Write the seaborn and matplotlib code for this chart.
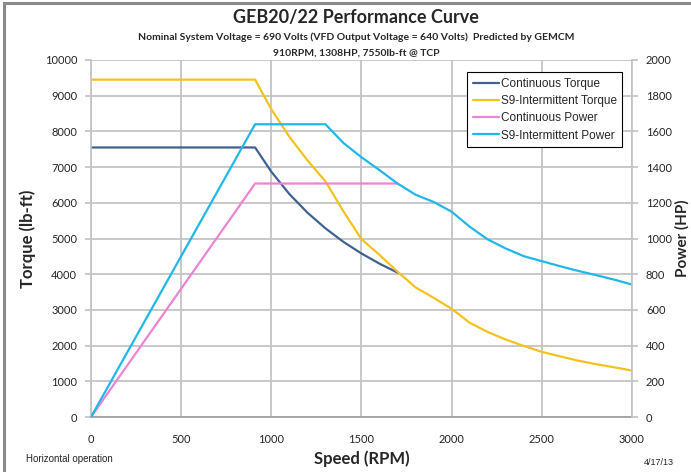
import matplotlib
matplotlib.use("Agg")
import matplotlib.pyplot as plt
import seaborn as sns
from matplotlib.patches import Rectangle

# --- data ---
cont_torque_rpm = [0, 910, 1000, 1100, 1200, 1300, 1400, 1500, 1600, 1700]
cont_torque = [7550, 7550, 6870, 6245, 5725, 5285, 4905, 4580, 4295, 4045]

s9_torque_rpm = [0, 910, 1000, 1100, 1200, 1300, 1400, 1500, 1600, 1700, 1800,
                 1900, 2000, 2100, 2200, 2300, 2400, 2500, 2600, 2700, 2800, 2900, 3000]
s9_torque = [9450, 9450, 8620, 7850, 7190, 6600, 5760, 4980, 4540, 4070, 3630,
             3340, 3030, 2640, 2380, 2170, 1990, 1825, 1700, 1580, 1480, 1395, 1300]

cont_power_rpm = [0, 910, 1700]
cont_power = [0, 1308, 1308]

s9_power_rpm = [0, 910, 1300, 1400, 1500, 1600, 1700, 1800, 1900, 2000, 2100,
                2200, 2300, 2400, 2500, 2600, 2700, 2800, 2900, 3000]
s9_power = [0, 1640, 1640, 1535, 1455, 1383, 1308, 1245, 1205, 1150, 1066,
            995, 944, 901, 873, 845, 819, 795, 770, 742]

torque_ticks = list(range(0, 10001, 1000))
power_ticks = list(range(0, 2001, 200))
rpm_ticks = list(range(0, 3001, 500))

c_dark = "#3f6290"
c_gold = "#f3c21f"
c_pink = "#ec84d2"
c_cyan = "#22b7e8"

sns.set_theme(style="white")
plt.rcParams["font.family"] = ["Lato", "DejaVu Sans"]

fig = plt.figure(figsize=(6.91, 4.72), dpi=100)
ax = fig.add_axes([0.1317, 0.1165, 0.7829, 0.7564])
ax2 = ax.twinx()

sns.lineplot(x=cont_torque_rpm, y=cont_torque, ax=ax, color=c_dark, lw=1.6,
             label="Continuous Torque", legend=False)
sns.lineplot(x=s9_torque_rpm, y=s9_torque, ax=ax, color=c_gold, lw=1.6,
             label="S9-Intermittent Torque", legend=False)
sns.lineplot(x=cont_power_rpm, y=cont_power, ax=ax2, color=c_pink, lw=1.6,
             label="Continuous Power", legend=False)
sns.lineplot(x=s9_power_rpm, y=s9_power, ax=ax2, color=c_cyan, lw=1.6,
             label="S9-Intermittent Power", legend=False)

ax.set_xlim(0, 3000)
ax.set_ylim(0, 10000)
ax2.set_ylim(0, 2000)
ax.set_xticks(rpm_ticks)
ax.set_yticks(torque_ticks)
ax2.set_yticks(power_ticks)

ax.grid(True, color="#c4c4c4", lw=1.3)
ax2.grid(False)
for a in (ax, ax2):
    for s in a.spines.values():
        s.set_visible(False)
ax.spines["left"].set_visible(True)
ax.spines["left"].set_color("#c4c4c4")
ax.spines["bottom"].set_visible(True)
ax.spines["bottom"].set_color("#a0a0a0")
ax2.spines["right"].set_visible(True)
ax2.spines["right"].set_color("#c4c4c4")

ax.tick_params(axis="y", left=True, length=4, color="#c4c4c4", labelsize=8, pad=6)
ax.tick_params(axis="x", bottom=False, labelsize=8, pad=6)
ax2.tick_params(axis="y", right=True, length=4, color="#c4c4c4", labelsize=8, pad=6)

ax.set_xlabel("Speed (RPM)", fontsize=12, fontweight="bold", labelpad=4)
ax.set_ylabel("Torque (lb-ft)", fontsize=12, fontweight="bold")
ax2.set_ylabel("Power (HP)", fontsize=11, fontweight="bold")
ax.yaxis.set_label_coords(-0.102, 0.5)
ax2.yaxis.set_label_coords(1.08, 0.5)

h1, l1 = ax.get_legend_handles_labels()
h2, l2 = ax2.get_legend_handles_labels()
leg = ax2.legend(h1 + h2, l1 + l2, loc="upper right", bbox_to_anchor=(0.993, 0.982),
                 frameon=True, fancybox=False, edgecolor="black", framealpha=1,
                 handlelength=2.2, handletextpad=0.2, borderpad=0.45,
                 labelspacing=0.45, prop={"family": "Liberation Sans", "size": 8.5})
leg.get_frame().set_linewidth(0.8)

fig.text(0.515, 0.962, "GEB20/22 Performance Curve", ha="center", va="center",
         fontsize=13, fontweight="bold")
fig.text(0.515, 0.921, "Nominal System Voltage = 690 Volts (VFD Output Voltage = 640 Volts)  Predicted by GEMCM",
         ha="center", va="center", fontsize=7.5, fontweight="bold")
fig.text(0.515, 0.887, "910RPM, 1308HP, 7550lb-ft @ TCP", ha="center", va="center",
         fontsize=7.5, fontweight="bold")
fig.text(0.038, 0.027, "Horizontal operation", ha="left", va="center", fontsize=7,
         family="Liberation Sans")
fig.text(0.975, 0.020, "4/17/13", ha="right", va="center", fontsize=6.5,
         family="Liberation Sans")

# grey frame of the original screenshot
fig.patches.append(Rectangle((0.006, -0.2), 1.2, 1.194, transform=fig.transFigure,
                             fill=False, edgecolor="#8a8a8a", lw=2.2))

fig.savefig("out.png", dpi=100)
